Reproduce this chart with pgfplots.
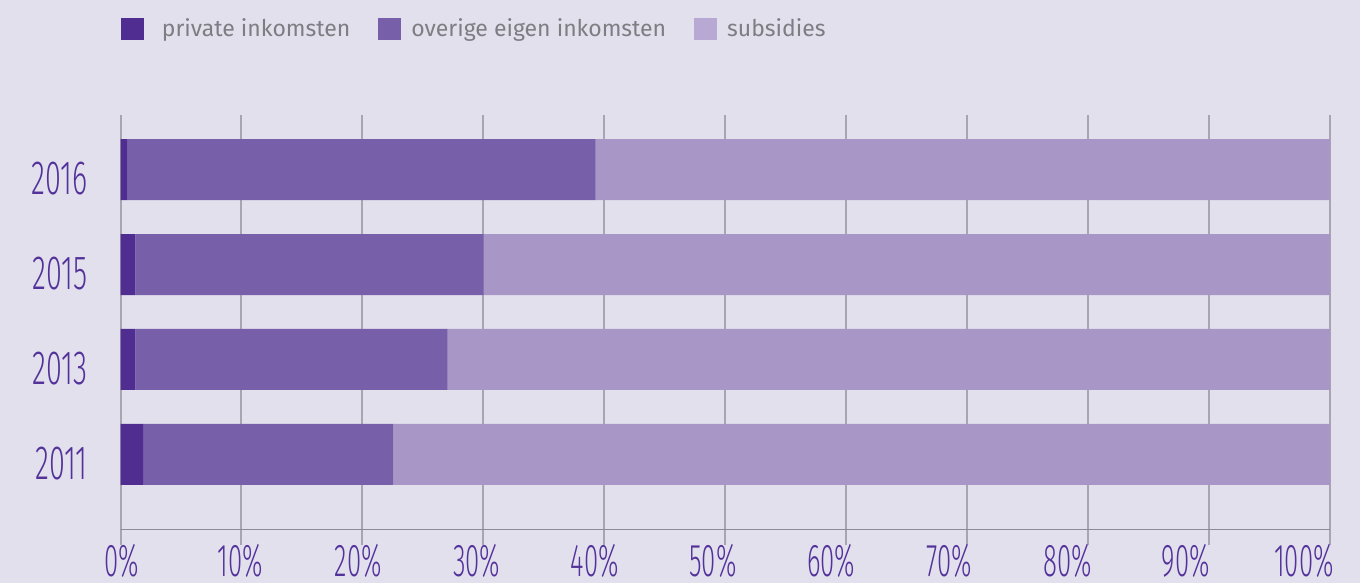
\documentclass[border=0pt]{standalone}
\usepackage{pgfplots}
\pgfplotsset{compat=1.18}
\usepackage{fontspec}
\setmainfont{Fira Sans}
\newfontfamily\condfont{Fira Sans}[UprightFont=* Light, FakeStretch=0.6]
\newfontfamily\condfontx{Fira Sans}[UprightFont=* Light, FakeStretch=0.56]
\definecolor{bg}{HTML}{E3E0EE}
\definecolor{cpriv}{HTML}{4F2D91}
\definecolor{cover}{HTML}{7760A9}
\definecolor{csub}{HTML}{A896C6}
\definecolor{csubleg}{HTML}{B8A9D4}
\definecolor{gridc}{HTML}{A9A5B0}
\definecolor{axc}{HTML}{8E8B94}
\definecolor{labc}{HTML}{53339A}
\definecolor{legtext}{HTML}{7E7D82}
\pgfplotstableread{
y  priv  over  sub
0  1.87  20.69 77.44
1  1.24  25.81 72.95
2  1.24  28.79 69.97
3  0.58  38.71 60.71
}\datatab
\pgfplotsset{
  legsq/.style={legend image code/.code={\fill[##1] (0pt,-5.5pt) rectangle (11.5pt,5.5pt);}},
}
\begin{document}
\begin{tikzpicture}
\useasboundingbox (0,0) rectangle (680pt,291.5pt);
\fill[bg] (0,0) rectangle (680pt,291.5pt);
\begin{axis}[
  at={(60.25pt,26.5pt)}, anchor=south west, scale only axis,
  width=604.75pt, height=207.5pt,
  xbar stacked, bar width=30.5pt, bar shift=0pt,
  xmin=0, xmax=100, ymin=-0.795, ymax=3.574,
  ytick={0,1,2,3}, yticklabels={2011,2013,2015,2016},
  xtick={0,10,...,100}, xticklabels={},
  axis line style={draw=none},
  xmajorgrids, grid style={gridc, line width=1pt},
  tick align=outside, xtick pos=bottom, ytick pos=left,
  major tick length=7.5pt,
  xtick style={gridc, line width=1pt},
  ytick style={draw=none},
  yticklabel style={font=\condfont\fontsize{24}{24}\selectfont, text=labc, anchor=east, inner sep=0pt, xshift=-8.75pt, yshift=-4.5pt},
  legend columns=3,
  legend style={at={(0,1.2434)}, anchor=north west, draw=none, fill=none, inner sep=0pt,
    font=\fontsize{11.5}{13}\selectfont, nodes={text=legtext},
    /tikz/every odd column/.append style={column sep=3pt},
    /tikz/every even column/.append style={column sep=12pt}},
]
\addplot[fill=cpriv, draw=none, legsq] table[x=priv, y=y] {\datatab};
\addplot[fill=cover, draw=none, legsq] table[x=over, y=y] {\datatab};
\addplot[fill=csub, draw=none, legend image code/.code={\fill[csubleg] (0pt,-5.5pt) rectangle (11.5pt,5.5pt);}] table[x=sub, y=y] {\datatab};
\legend{\hspace*{4pt}private inkomsten, overige eigen inkomsten, subsidies}
\draw[axc, line width=1pt] ([xshift=-10pt]rel axis cs:0,0) -- (rel axis cs:1,0);
\end{axis}
\begin{axis}[
  at={(61pt,3pt)}, anchor=south west, scale only axis,
  width=591pt, height=10pt,
  xmin=0, xmax=100, ymin=0, ymax=1,
  axis line style={draw=none}, ytick=\empty,
  xtick={0,10,...,100}, major tick length=0pt,
  xticklabels={0\%,10\%,20\%,30\%,40\%,50\%,60\%,70\%,80\%,90\%,100\%},
  xticklabel style={font=\condfontx\fontsize{23}{24}\selectfont, text=labc, anchor=base, inner sep=0pt, yshift=0pt},
  typeset ticklabels with strut=false,
]
\end{axis}
\end{tikzpicture}
\end{document}
